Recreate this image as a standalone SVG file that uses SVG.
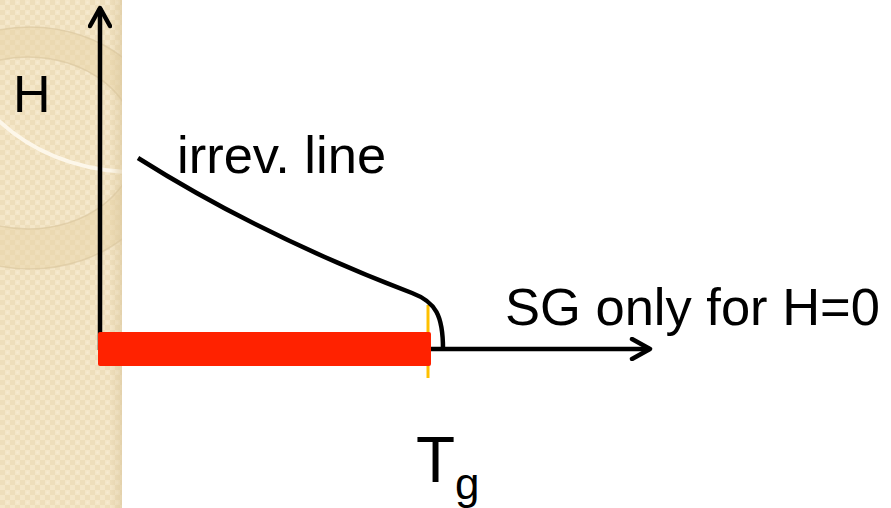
<svg xmlns="http://www.w3.org/2000/svg" width="891" height="508" viewBox="0 0 891 508">
<defs>
<pattern id="chk" width="10" height="10" patternUnits="userSpaceOnUse">
<rect width="10" height="10" fill="#f4e6c8"/>
<rect width="5" height="5" fill="#eedebb"/>
<rect x="5" y="5" width="5" height="5" fill="#eedebb"/>
<rect x="6.5" y="1.5" width="2" height="2" fill="#f7ebd2"/>
</pattern>
<linearGradient id="edge" x1="0" y1="0" x2="1" y2="0">
<stop offset="0" stop-color="#d8c49a" stop-opacity="0"/>
<stop offset="1" stop-color="#d8c49a" stop-opacity="0.5"/>
</linearGradient>
<clipPath id="strip"><rect x="0" y="0" width="122" height="508"/></clipPath>
<marker id="arr" viewBox="0 0 24 24" markerWidth="24" markerHeight="24" refX="21" refY="12" orient="auto" markerUnits="userSpaceOnUse">
<path d="M3,2 L21,12 L3,22" fill="none" stroke="#000" stroke-width="4.5" stroke-linecap="round" stroke-linejoin="round"/>
</marker>
<style>
.t{font-family:"Liberation Sans",Arial,sans-serif;fill:#000}
.ax{stroke:#000;stroke-width:4.5;fill:none}
</style>
</defs>
<g id="background">
<rect x="0" y="0" width="122" height="508" fill="url(#chk)"/>
<g clip-path="url(#strip)">
<path fill-rule="evenodd" d="M-110,148 a140,121 0 1,0 280,0 a140,121 0 1,0 -280,0 Z M-80,143 a108,86 0 1,0 216,0 a108,86 0 1,0 -216,0 Z" fill="#e6d3a6" fill-opacity="0.45" stroke="#d9c59c" stroke-width="1.5" stroke-opacity="0.6"/>
<path d="M-2,120 C30,150 70,168 124,172" fill="none" stroke="#fdf7ea" stroke-width="4"/>
<rect x="110" y="0" width="12" height="508" fill="url(#edge)"/>
</g>
</g>
<g id="tg-line">
<line x1="428" y1="305" x2="428" y2="378" stroke="#ffc000" stroke-width="3"/>
</g>
<g id="connectors">
<line class="ax" x1="100" y1="350" x2="100" y2="8" marker-end="url(#arr)"/>
<line class="ax" x1="430" y1="349" x2="650" y2="349" marker-end="url(#arr)"/>
<path class="ax" d="M138,158 C225,213 320,258 412,293 C436,302 443,316 443,349"/>
</g>
<g id="bar">
<rect x="98" y="332" width="333" height="34" rx="2" fill="#ff2200"/>
</g>
<g id="labels">
<text class="t" x="13" y="112" font-size="52">H</text>
<text class="t" x="177" y="173" font-size="52.5">irrev. line</text>
<text class="t" x="505" y="325" font-size="52.5">SG only for H=0</text>
<text class="t" x="416" y="482" font-size="64">T<tspan font-size="44" dy="17">g</tspan></text>
</g>
</svg>
